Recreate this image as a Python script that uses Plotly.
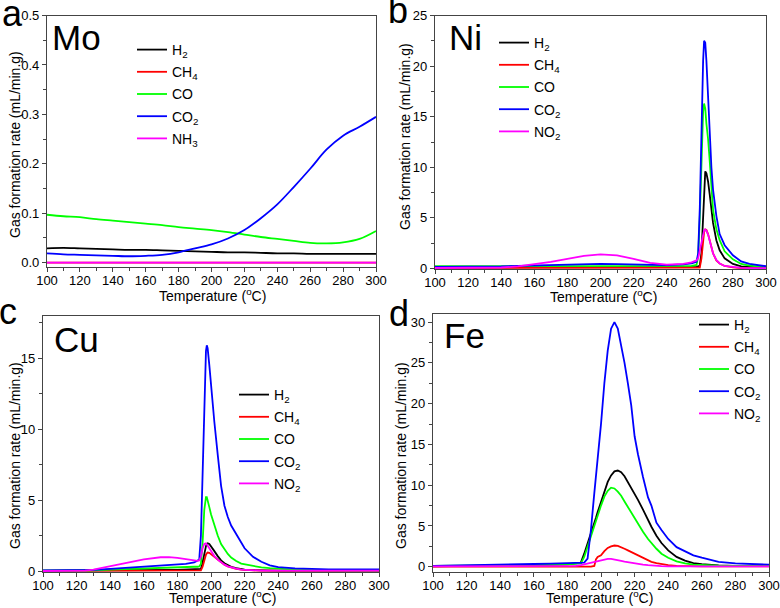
import plotly.graph_objects as go

W, H = 780, 608

# ---------------- Data ----------------
# Panel a : Mo
mo_T = [100, 110, 120, 130, 140, 150, 160, 170, 180, 190, 200, 210, 220, 230, 240, 250, 260, 270, 280, 290, 300]
mo_H2 = [0.029, 0.030, 0.029, 0.028, 0.027, 0.026, 0.026, 0.025, 0.024, 0.023, 0.022, 0.021, 0.021, 0.020, 0.019, 0.019, 0.018, 0.018, 0.018, 0.018, 0.018]
mo_CH4 = [0.0] * 21
mo_CO = [0.097, 0.094, 0.092, 0.088, 0.085, 0.082, 0.079, 0.076, 0.072, 0.069, 0.066, 0.062, 0.057, 0.052, 0.048, 0.044, 0.040, 0.039, 0.041, 0.048, 0.064]
mo_CO2 = [0.019, 0.017, 0.016, 0.015, 0.014, 0.013, 0.014, 0.016, 0.021, 0.029, 0.037, 0.049, 0.066, 0.090, 0.118, 0.153, 0.190, 0.229, 0.257, 0.275, 0.295]
mo_NH3 = [0.0] * 21

# Panel b : Ni
ni_T = [100, 110, 120, 130, 140, 150, 160, 170, 180, 190, 200, 210, 220, 230, 240, 250, 255, 258, 259, 260,
        261, 262, 262.6, 263.3, 264, 265, 266, 267, 268, 270, 272, 275, 280, 285, 290, 295, 300]
ni_H2 = [0.1, 0.1, 0.1, 0.1, 0.1, 0.1, 0.1, 0.1, 0.1, 0.1, 0.1, 0.1, 0.1, 0.1, 0.1, 0.1, 0.12, 0.15, 0.2, 0.3,
         1.5, 5.5, 8.0, 9.6, 9.4, 8.6, 7.3, 5.8, 4.5, 2.8, 1.8, 1.0, 0.45, 0.2, 0.12, 0.1, 0.1]
ni_CH4 = [0.05, 0.05, 0.05, 0.05, 0.05, 0.05, 0.05, 0.05, 0.05, 0.05, 0.05, 0.05, 0.05, 0.05, 0.05, 0.05, 0.05, 0.05, 0.05, 0.1,
          1.0, 3.0, 3.6, 3.85, 3.8, 3.4, 2.7, 2.0, 1.5, 0.8, 0.5, 0.25, 0.1, 0.05, 0.04, 0.03, 0.03]
ni_CO = [0.22, 0.22, 0.22, 0.22, 0.22, 0.22, 0.22, 0.22, 0.22, 0.22, 0.22, 0.22, 0.22, 0.22, 0.22, 0.22, 0.25, 0.35, 1.2, 5.0,
         11.0, 15.5, 16.3, 15.8, 14.3, 12.8, 10.6, 8.0, 5.8, 3.9, 2.8, 1.7, 0.9, 0.45, 0.28, 0.2, 0.18]
ni_CO2 = [0.15, 0.15, 0.17, 0.18, 0.2, 0.25, 0.3, 0.35, 0.4, 0.43, 0.45, 0.43, 0.4, 0.35, 0.33, 0.4, 0.5, 0.65, 1.5, 6.0,
          14.0, 20.5, 22.5, 22.3, 20.5, 17.0, 13.0, 10.0, 7.8, 5.2, 3.4, 2.3, 1.3, 0.7, 0.45, 0.3, 0.22]
ni_NO2 = [0.05, 0.05, 0.05, 0.07, 0.1, 0.2, 0.4, 0.65, 0.95, 1.25, 1.4, 1.3, 0.95, 0.55, 0.38, 0.45, 0.6, 0.8, 1.0, 1.8,
          2.8, 3.5, 3.75, 3.85, 3.75, 3.35, 2.7, 2.0, 1.5, 0.85, 0.5, 0.25, 0.12, 0.06, 0.04, 0.03, 0.03]

# Panel c : Cu
cu_T = [100, 110, 120, 125, 130, 140, 150, 160, 170, 175, 180, 185, 190, 192, 193, 194, 195, 196, 197, 197.5,
        198, 199, 200, 201, 202, 204, 206, 208, 210, 212, 215, 218, 220, 225, 230, 235, 240, 250, 260, 270,
        280, 290, 300]
cu_H2 = [0.02, 0.02, 0.02, 0.02, 0.02, 0.02, 0.02, 0.04, 0.06, 0.07, 0.08, 0.09, 0.1, 0.1, 0.1, 0.15, 0.6, 1.3, 1.75, 1.9,
         1.95, 1.9, 1.75, 1.6, 1.4, 1.05, 0.75, 0.55, 0.4, 0.3, 0.2, 0.13, 0.1, 0.06, 0.04, 0.03, 0.03, 0.03, 0.03, 0.03,
         0.03, 0.03, 0.03]
cu_CH4 = [0.01, 0.01, 0.01, 0.01, 0.01, 0.01, 0.01, 0.01, 0.01, 0.01, 0.01, 0.01, 0.01, 0.01, 0.02, 0.05, 0.3, 0.8, 1.15, 1.25,
          1.3, 1.28, 1.2, 1.1, 1.0, 0.8, 0.6, 0.45, 0.33, 0.25, 0.15, 0.1, 0.07, 0.04, 0.02, 0.02, 0.02, 0.02, 0.02, 0.02,
          0.02, 0.02, 0.02]
cu_CO = [0.03, 0.03, 0.03, 0.03, 0.05, 0.1, 0.15, 0.2, 0.25, 0.27, 0.28, 0.29, 0.3, 0.3, 0.32, 0.5, 2.0, 4.3, 5.2, 5.2,
         5.0, 4.5, 4.0, 3.6, 3.2, 2.5, 1.9, 1.5, 1.2, 0.95, 0.7, 0.52, 0.47, 0.33, 0.25, 0.2, 0.15, 0.1, 0.07, 0.06,
         0.05, 0.05, 0.05]
cu_CO2 = [0.05, 0.05, 0.05, 0.06, 0.08, 0.15, 0.22, 0.3, 0.37, 0.4, 0.45, 0.5, 0.6, 0.7, 0.8, 2.5, 7.0, 12.5, 15.5, 15.9,
          15.7, 14.5, 13.0, 11.8, 10.5, 8.2, 6.0, 4.6, 3.8, 3.2, 2.6, 1.9, 1.6, 1.0, 0.65, 0.4, 0.28, 0.18, 0.14, 0.12,
          0.12, 0.12, 0.12]
cu_NO2 = [0.0, 0.0, 0.0, 0.02, 0.1, 0.35, 0.6, 0.82, 0.97, 0.98, 0.93, 0.83, 0.72, 0.72, 0.75, 1.0, 1.6, 1.9, 1.95, 1.9,
          1.8, 1.6, 1.4, 1.2, 1.05, 0.8, 0.6, 0.45, 0.33, 0.25, 0.17, 0.1, 0.08, 0.05, 0.03, 0.02, 0.02, 0.02, 0.02, 0.02,
          0.02, 0.02, 0.02]

# Panel d : Fe
fe_T = [100, 120, 140, 160, 170, 180, 185, 188, 190, 192, 194, 196, 197, 198, 200, 202, 204, 206, 208, 210,
        212, 214, 216, 218, 220, 222, 225, 228, 230, 233, 236, 240, 245, 250, 255, 260, 270, 280, 290, 300]
fe_H2 = [0.05, 0.08, 0.12, 0.18, 0.22, 0.3, 0.4, 0.5, 1.6, 2.8, 4.0, 5.3, 6.0, 6.7, 8.0, 9.3, 10.4, 11.2, 11.7, 11.8,
         11.6, 11.1, 10.4, 9.7, 9.0, 8.2, 7.0, 5.7, 4.9, 3.8, 2.9, 2.0, 1.2, 0.75, 0.45, 0.3, 0.15, 0.1, 0.08, 0.08]
fe_CH4 = [0.0, 0.0, 0.0, 0.0, 0.0, 0.0, 0.0, 0.0, 0.0, 0.0, 0.0, 0.1, 0.9, 1.2, 1.4, 1.9, 2.3, 2.5, 2.6, 2.55,
          2.4, 2.2, 2.0, 1.8, 1.55, 1.3, 1.0, 0.75, 0.6, 0.45, 0.32, 0.2, 0.1, 0.05, 0.03, 0.03, 0.03, 0.03, 0.03, 0.03]
fe_CO = [0.1, 0.12, 0.15, 0.2, 0.25, 0.3, 0.35, 0.4, 1.2, 2.5, 3.8, 5.0, 5.7, 6.3, 7.5, 8.6, 9.3, 9.7, 9.6, 9.2,
         8.7, 8.0, 7.3, 6.6, 5.9, 5.2, 4.3, 3.4, 2.9, 2.2, 1.6, 1.1, 0.65, 0.4, 0.25, 0.18, 0.12, 0.1, 0.1, 0.1]
fe_CO2 = [0.1, 0.15, 0.25, 0.33, 0.38, 0.45, 0.5, 0.5, 0.5, 1.0, 4.5, 9.0, 11.0, 13.0, 17.5, 22.5, 26.5, 29.2, 30.0, 29.2,
          27.2, 25.0, 22.5, 19.8, 16.0, 13.8, 11.0, 8.5, 7.5, 5.4, 4.5, 3.4, 2.4, 1.9, 1.4, 1.1, 0.6, 0.4, 0.3, 0.25]
fe_NO2 = [0.05, 0.05, 0.05, 0.05, 0.05, 0.05, 0.1, 0.2, 0.3, 0.4, 0.55, 0.65, 0.7, 0.75, 0.85, 0.92, 0.97, 0.95, 0.9, 0.82,
          0.72, 0.63, 0.55, 0.47, 0.4, 0.33, 0.26, 0.19, 0.15, 0.1, 0.07, 0.05, 0.03, 0.03, 0.03, 0.03, 0.03, 0.03, 0.03, 0.03]

gas_names_a = ["H<sub>2</sub>", "CH<sub>4</sub>", "CO", "CO<sub>2</sub>", "NH<sub>3</sub>"]
gas_names = ["H<sub>2</sub>", "CH<sub>4</sub>", "CO", "CO<sub>2</sub>", "NO<sub>2</sub>"]
colors = ["#000000", "#FF0000", "#00FF00", "#0000FF", "#FF00FF"]
x_title = "Temperature (<sup>o</sup>C)"
y_title = "Gas formation rate (mL/min.g)"

panels = [
    dict(T=mo_T, ys=[mo_H2, mo_CH4, mo_CO, mo_CO2, mo_NH3], names=gas_names_a, ax="", leg="legend", shape="spline"),
    dict(T=ni_T, ys=[ni_H2, ni_CH4, ni_CO, ni_CO2, ni_NO2], names=gas_names, ax="2", leg="legend2", shape="linear"),
    dict(T=cu_T, ys=[cu_H2, cu_CH4, cu_CO, cu_CO2, cu_NO2], names=gas_names, ax="3", leg="legend3", shape="linear"),
    dict(T=fe_T, ys=[fe_H2, fe_CH4, fe_CO, fe_CO2, fe_NO2], names=gas_names, ax="4", leg="legend4", shape="linear"),
]

fig = go.Figure()
for pi, p in enumerate(panels):
    for k in range(5):
        fig.add_trace(go.Scatter(
            x=p["T"], y=p["ys"][k], mode="lines", name=p["names"][k],
            line=dict(color=colors[k], width=1.8, shape=p["shape"]),
            xaxis="x" + p["ax"], yaxis="y" + p["ax"],
            legend=p["leg"], legendgroup=f"p{pi}g{k}",
        ))

def px_x(v):
    return v / W

def px_y(v):
    return 1 - v / H

font_family = "Liberation Sans, Arial, sans-serif"

# domains in pixels: (left, right, top, bottom)
doms = [(47, 376, 15.5, 267), (435, 766, 15.5, 269), (43, 379, 315.5, 572), (433, 769, 314, 572)]
yranges = [[-0.0087, 0.5], [-0.05, 25], [-0.07, 18], [-0.65, 31]]
ydt = [0.1, 5, 5, 5]
yfmt = [".1f", "d", "d", "d"]

layout = dict(
    width=W, height=H, margin=dict(l=0, r=0, t=0, b=0),
    paper_bgcolor="white", plot_bgcolor="white",
    font=dict(family=font_family, size=12, color="black"),
)

for i, (l, r, t, b) in enumerate(doms):
    sfx = "" if i == 0 else str(i + 1)
    layout["xaxis" + sfx] = dict(
        domain=[px_x(l), px_x(r)], range=[100, 300], dtick=20, tick0=100,
        anchor="y" + sfx, showgrid=False, zeroline=False, showline=True, mirror=True,
        linecolor="#444444", linewidth=1.3, ticks="outside", ticklen=4, tickwidth=1.2, tickcolor="#444444",
        minor=dict(dtick=10, ticks="outside", ticklen=3, tickwidth=1, tickcolor="#444444"),
        tickfont=dict(size=13), automargin=False, ticklabelstandoff=-3,
    )
    layout["yaxis" + sfx] = dict(
        domain=[px_y(b), px_y(t)], range=yranges[i], dtick=ydt[i], tick0=0, tickformat=yfmt[i],
        anchor="x" + sfx, showgrid=False, zeroline=False, showline=True, mirror=True,
        linecolor="#444444", linewidth=1.3, ticks="outside", ticklen=4, tickwidth=1.2, tickcolor="#444444",
        minor=dict(dtick=ydt[i] / 2, ticks="outside", ticklen=3, tickwidth=1, tickcolor="#444444"),
        tickfont=dict(size=13), automargin=False,
    )

# legends: (line start x px, top y px)
leg_pos = [(138, 34), (500, 27), (240, 379), (700, 309)]
for i, (lx, ly) in enumerate(leg_pos):
    key = "legend" if i == 0 else f"legend{i + 1}"
    layout[key] = dict(
        x=px_x(lx - 6), y=px_y(ly), xanchor="left", yanchor="top",
        bgcolor="rgba(0,0,0,0)", borderwidth=0, font=dict(size=14, family=font_family),
        tracegroupgap=1, itemwidth=30,
    )

fig.update_layout(**layout)

# axis titles placed as annotations
x_titles = [(213, 295), (603, 296), (222, 597), (599, 597)]
for x, y in x_titles:
    fig.add_annotation(text=x_title, x=px_x(x), y=px_y(y), xref="paper", yref="paper",
                       showarrow=False, xanchor="center", yanchor="middle",
                       font=dict(size=14, family=font_family, color="black"))
y_titles = [(15, 145), (405, 137), (15, 456), (401, 455)]
for x, y in y_titles:
    fig.add_annotation(text=y_title, x=px_x(x), y=px_y(y), xref="paper", yref="paper",
                       showarrow=False, xanchor="center", yanchor="middle", textangle=-90,
                       font=dict(size=14, family=font_family, color="black"))

# panel letters and element labels
letters = [("a", 12, 13), ("b", 398, 11), ("c", 8, 311), ("d", 399, 313)]
for txt, x, y in letters:
    fig.add_annotation(text=txt, x=px_x(x), y=px_y(y), xref="paper", yref="paper",
                       showarrow=False, xanchor="center", yanchor="middle",
                       font=dict(size=36, family=font_family, color="black"))
elements = [("Mo", 76.5, 37.5), ("Ni", 465, 37.5), ("Cu", 76, 339), ("Fe", 464, 335)]
for txt, x, y in elements:
    fig.add_annotation(text=txt, x=px_x(x), y=px_y(y), xref="paper", yref="paper",
                       showarrow=False, xanchor="center", yanchor="middle",
                       font=dict(size=35, family=font_family, color="black"))

fig.write_html(
    "out.html",
    config={"displayModeBar": False},
    post_script="document.body.style.margin='0';document.body.style.overflow='hidden';",
)
